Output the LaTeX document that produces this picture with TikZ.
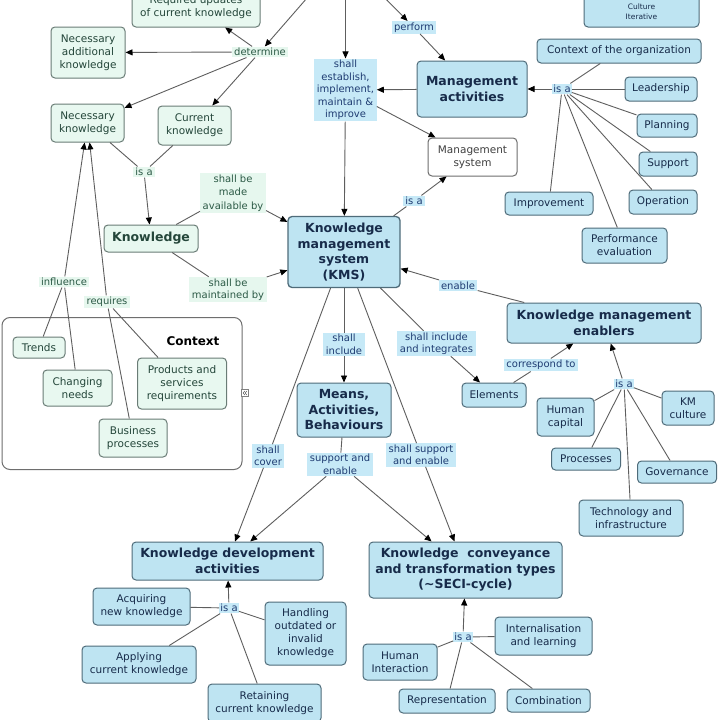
\documentclass[tikz,border=0pt]{standalone}
\usepackage{fontspec}
\setmainfont{DejaVu Sans}
\usetikzlibrary{arrows.meta}
\definecolor{bluef}{HTML}{BEE4F2}
\definecolor{bbord}{HTML}{4F6C7A}
\definecolor{btext}{HTML}{172B4A}
\definecolor{greenf}{HTML}{E8F8F0}
\definecolor{gbord}{HTML}{6A7C76}
\definecolor{gtext}{HTML}{24463A}
\definecolor{blabf}{HTML}{C6E9F7}
\definecolor{blabt}{HTML}{1F3C72}
\definecolor{glabf}{HTML}{E6F7EE}
\definecolor{glabt}{HTML}{2C5A46}
\definecolor{linec}{HTML}{5E5E5E}
\definecolor{ctxbord}{HTML}{6E6E6E}
\begin{document}
\begin{tikzpicture}[x=1pt,y=-1pt,
  box/.style={rounded corners=4pt, line width=1pt, align=center, inner sep=1pt,
    font=\fontsize{10.5}{13}\selectfont},
  bbox/.style={box, draw=bbord, fill=bluef, text=btext},
  gbox/.style={box, draw=gbord, fill=greenf, text=gtext},
  wbox/.style={box, draw=ctxbord, fill=white, text=black!75},
  bold/.style={font=\bfseries\fontsize{12.5}{15.5}\selectfont},
  sz/.style 2 args={minimum width=#1pt, minimum height=#2pt},
  lab/.style={align=center, inner xsep=2.5pt, inner ysep=1.5pt,
    font=\fontsize{10}{12.5}\selectfont},
  blab/.style={lab, fill=blabf, text=blabt},
  glab/.style={lab, fill=glabf, text=glabt},
  conn/.style={draw=linec, line width=0.9pt},
  arr/.style={conn, -{Triangle[length=7pt,width=6pt,color=black]}}
]
\useasboundingbox (0,0) rectangle (720,720);
\fill[white] (0,0) rectangle (720,720);

% Context container
\node[draw=ctxbord, fill=white, rounded corners=8pt, line width=1pt,
  minimum width=240pt, minimum height=152pt] (ctxbox) at (122,393.5) {};
\node[font=\bfseries\fontsize{12}{14}\selectfont] (ctxtitle) at (193,341) {Context};
\node[draw=gray, fill=white, line width=0.5pt, minimum size=7pt, inner sep=0pt] (ctxicon) at (245,393) {};
\draw[gray!60!black, line width=0.5pt] ([xshift=-0.3pt,yshift=2pt]ctxicon.center) -- ++(-1.5,2) -- ++(1.5,2);
\draw[gray!60!black, line width=0.5pt] ([xshift=1.7pt,yshift=2pt]ctxicon.center) -- ++(-1.5,2) -- ++(1.5,2);

% top partial nodes
\node[gbox, sz={128}{40}] (requpd) at (196,7) {Required updates\\of current knowledge};
\node[bbox, sz={115}{60}] (cultbox) at (641.5,-3) {};
\node[text=btext, align=center, font=\fontsize{7.5}{10}\selectfont] (cult) at (641.5,12) {Culture\\Iterative};

% left green concepts
\node[gbox, sz={74}{51}] (nadd) at (88,52.5) {Necessary\\additional\\knowledge};
\node[gbox, sz={73}{38}] (nknow) at (87.5,123) {Necessary\\knowledge};
\node[gbox, sz={73}{39}] (curk) at (194.5,125.5) {Current\\knowledge};
\node[gbox, bold, sz={94}{27}] (knowl) at (151,238.5) {Knowledge};
\node[gbox, sz={52}{21}] (trends) at (39,347.5) {Trends};
\node[gbox, sz={69}{36}] (chneeds) at (77.5,388) {Changing\\needs};
\node[gbox, sz={89}{51}] (pands) at (182,383.5) {Products and\\services\\requirements};
\node[gbox, sz={68}{38}] (busproc) at (133,438) {Business\\processes};

% green labels
\node[glab] (determine) at (260,52) {determine};
\node[glab] (isa1) at (144,172) {is a};
\node[glab, font=\fontsize{10}{13.5}\selectfont] (madeav) at (233,193) {shall be\\made\\available by};
\node[glab] (maint) at (228,289.5) {shall be\\maintained by};
\node[glab] (influence) at (64,282) {influence};
\node[glab] (requires) at (107,302) {requires};

% central / right blue concepts
\node[bbox, bold, sz={112}{71}, line width=1.3pt] (kms) at (344,252) {Knowledge\\management\\system\\(KMS)};
\node[bbox, bold, sz={110}{56}] (mgmtact) at (472,89) {Management\\activities};
\node[wbox, sz={89}{38}] (mgmtsys) at (472.5,157) {Management\\system};
\node[bbox, sz={164}{24}] (ctxorg) at (619,51) {Context of the organization};
\node[bbox, sz={72}{24}] (leader) at (661,89) {Leadership};
\node[bbox, sz={60}{23}] (planning) at (667,125.5) {Planning};
\node[bbox, sz={58}{24}] (support) at (668,164) {Support};
\node[bbox, sz={68}{24}] (operation) at (663,202) {Operation};
\node[bbox, sz={88}{23}] (improvement) at (549,203.5) {Improvement};
\node[bbox, sz={85}{35}] (perfeval) at (624.5,245.5) {Performance\\evaluation};
\node[bbox, bold, sz={194}{40}] (kme) at (604,323) {Knowledge management\\enablers};
\node[bbox, sz={64}{24}] (elements) at (494,395) {Elements};
\node[bbox, sz={57}{38}] (humcap) at (565.5,417) {Human\\capital};
\node[bbox, sz={52}{34}] (kmcult) at (688,408) {KM\\culture};
\node[bbox, sz={69}{22}] (processes) at (586,459) {Processes};
\node[bbox, sz={79}{22}] (governance) at (677,472) {Governance};
\node[bbox, sz={104}{36}] (techinf) at (631,518) {Technology and\\infrastructure};
\node[bbox, bold, sz={94}{54}] (mab) at (344,410) {Means,\\Activities,\\Behaviours};
\node[bbox, bold, sz={191}{38}] (kda) at (227.5,561) {Knowledge development\\activities};
\node[bbox, bold, sz={193}{56}] (kct) at (465.5,570) {Knowledge~ conveyance\\and transformation types\\(\textasciitilde SECI-cycle)};
\node[bbox, sz={97}{37}] (acq) at (141.5,606.5) {Acquiring\\new knowledge};
\node[bbox, sz={114}{37}] (applying) at (139,664.5) {Applying\\current knowledge};
\node[bbox, sz={81}{63}] (handling) at (305.5,633.5) {Handling\\outdated or\\invalid\\knowledge};
\node[bbox, sz={113}{38}] (retaining) at (264.5,703) {Retaining\\current knowledge};
\node[bbox, sz={74}{36}] (humint) at (400,662) {Human\\Interaction};
\node[bbox, sz={97}{38}] (internal) at (543.5,636) {Internalisation\\and learning};
\node[bbox, sz={96}{24}] (repres) at (447,701) {Representation};
\node[bbox, sz={83}{23}] (combination) at (548.5,700.5) {Combination};

% blue labels
\node[blab] (estab) at (345.5,90) {shall\\establish,\\implement,\\maintain \&\\improve};
\node[blab] (perform) at (414,27.5) {perform};
\node[blab] (isa2) at (414,201) {is a};
\node[blab, inner xsep=1pt] (isa3) at (562,89) {is a};
\node[blab] (enable) at (458,285.5) {enable};
\node[blab] (corr) at (541,365) {correspond to};
\node[blab, inner xsep=1pt] (isa4) at (624,384) {is a};
\node[blab] (shinc) at (344,344.5) {shall\\include};
\node[blab] (shincint) at (436.5,343.5) {shall include\\and integrates};
\node[blab] (cover) at (268,456) {shall\\cover};
\node[blab] (suppen) at (340,464.5) {support and\\enable};
\node[blab] (shsupp) at (421,455) {shall support\\and enable};
\node[blab, inner xsep=1pt] (isa5) at (229,608) {is a};
\node[blab, inner xsep=1pt] (isa6) at (463,637) {is a};

% off-page sources
\coordinate (topA) at (314,-10);
\coordinate (topB) at (345.5,-10);
\coordinate (topC) at (377,-10);

% connectors: left part
\draw[arr] (topA) -- (determine);
\draw[arr] (determine) -- (requpd);
\draw[arr] (determine) -- (nadd);
\draw[arr] (determine) -- (nknow);
\draw[arr] (determine) -- (curk);
\draw[conn] (nknow) -- (isa1);
\draw[conn] (curk) -- (isa1);
\draw[arr] (isa1) -- (knowl);
\draw[conn] (knowl) -- (madeav);
\draw[arr] (madeav) -- (kms);
\draw[conn] (knowl) -- (maint);
\draw[arr] (maint) -- (kms);
\draw[arr] (influence) -- (nknow);
\draw[conn] (influence) -- (trends);
\draw[conn] (influence) -- (chneeds);
\draw[arr] (requires) -- (nknow);
\draw[conn] (requires) -- (pands);
\draw[conn] (requires) -- (busproc);

% connectors: top centre / right
\draw[arr] (topB) -- (estab);
\draw[arr] (mgmtact) -- (estab);
\draw[arr] (estab) -- (kms);
\draw[arr] (estab) -- (mgmtsys);
\draw[arr] (topC) -- (perform);
\draw[arr] (perform) -- (mgmtact);
\draw[conn] (kms) -- (isa2);
\draw[arr] (isa2) -- (mgmtsys);
\foreach \n in {ctxorg,leader,planning,support,operation,improvement,perfeval}
  \draw[conn] (\n) -- (isa3);
\draw[arr] (isa3) -- (mgmtact);
\draw[conn] (kme) -- (enable);
\draw[arr] (enable) -- (kms);
\draw[conn] (kms) -- (shincint);
\draw[arr] (shincint) -- (elements);
\draw[conn] (elements) -- (corr);
\draw[arr] (corr) -- (kme);
\foreach \n in {humcap,kmcult,processes,governance,techinf}
  \draw[conn] (\n) -- (isa4);
\draw[arr] (isa4) -- (kme);

% connectors: lower part
\draw[conn] (kms) -- (shinc);
\draw[arr] (shinc) -- (mab);
\draw[conn] (kms) -- (cover);
\draw[arr] (cover) -- (kda);
\draw[conn] (kms) -- (shsupp);
\draw[arr] (shsupp) -- (kct);
\draw[conn] (mab) -- (suppen);
\draw[arr] (suppen) -- (kda);
\draw[arr] (suppen) -- (kct);
\foreach \n in {acq,applying,handling,retaining}
  \draw[conn] (\n) -- (isa5);
\draw[arr] (isa5) -- (kda);
\foreach \n in {humint,internal,repres,combination}
  \draw[conn] (\n) -- (isa6);
\draw[arr] (isa6) -- (kct);
\end{tikzpicture}
\end{document}
